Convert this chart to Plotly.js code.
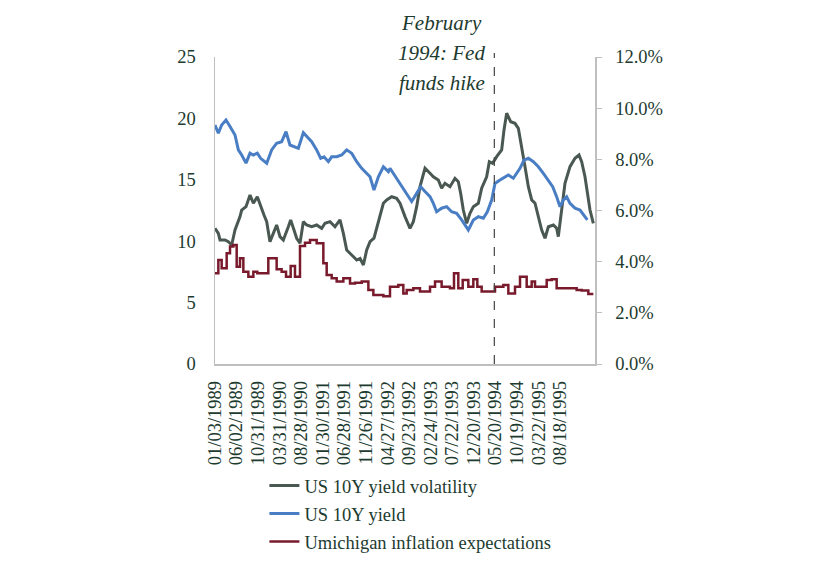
<!DOCTYPE html>
<html>
<head>
<meta charset="utf-8">
<script src="https://cdn.plot.ly/plotly-3.0.1.min.js"></script>
<style>html,body{margin:0;padding:0;background:#fff;}#chart{width:840px;height:566px;}</style>
</head>
<body>
<div id="chart"></div>
<script>
// ---- Data (x in decimal years) ----
const volX = [1989.005,1989.069,1989.101,1989.197,1989.261,1989.325,1989.389,1989.485,1989.517,1989.600,1989.677,1989.741,1989.817,1989.869,1989.945,1989.997,1990.060,1990.124,1990.188,1990.252,1990.316,1990.412,1990.457,1990.521,1990.572,1990.636,1990.700,1990.764,1990.860,1990.956,1991.052,1991.116,1991.212,1991.308,1991.404,1991.468,1991.532,1991.628,1991.724,1991.788,1991.852,1991.916,1991.980,1992.056,1992.140,1992.236,1992.300,1992.395,1992.491,1992.555,1992.651,1992.747,1992.811,1992.875,1992.939,1993.035,1993.131,1993.195,1993.290,1993.354,1993.418,1993.514,1993.610,1993.674,1993.719,1993.770,1993.834,1993.898,1993.962,1994.058,1994.122,1994.218,1994.269,1994.333,1994.410,1994.506,1994.551,1994.602,1994.679,1994.762,1994.826,1994.890,1994.954,1995.018,1995.082,1995.146,1995.210,1995.274,1995.338,1995.402,1995.498,1995.561,1995.593,1995.657,1995.721,1995.817,1995.913,1995.990,1996.041,1996.105,1996.150,1996.201,1996.265];
const volY = [11.05,10.64,10.10,10.10,9.96,9.69,10.91,12.00,12.54,12.81,13.76,13.09,13.62,12.95,12.13,11.59,9.96,10.64,11.32,10.37,10.10,11.18,11.73,10.91,10.24,9.83,11.59,11.32,11.18,11.32,11.05,11.46,11.59,11.18,11.73,10.64,9.28,8.88,8.47,8.60,8.06,9.28,9.96,10.24,11.59,13.09,13.36,13.62,13.49,13.09,12.00,11.05,11.59,12.81,14.44,15.94,15.53,15.25,14.98,14.31,14.72,14.44,15.12,14.85,13.90,12.54,11.46,12.27,12.81,13.09,14.31,15.25,16.47,16.34,16.88,17.43,19.06,20.42,19.73,19.60,19.19,17.43,16.07,14.44,13.36,13.09,12.00,10.91,10.24,11.18,11.32,11.05,10.37,12.54,14.72,16.07,16.75,17.02,16.47,15.25,13.90,12.54,11.46];

const yieldX = [1989.005,1989.069,1989.133,1989.216,1989.293,1989.389,1989.453,1989.517,1989.600,1989.677,1989.741,1989.817,1989.881,1989.997,1990.092,1990.188,1990.284,1990.368,1990.444,1990.540,1990.604,1990.700,1990.777,1990.860,1990.956,1991.033,1991.097,1991.180,1991.244,1991.340,1991.436,1991.532,1991.628,1991.724,1991.820,1991.916,1991.980,1992.056,1992.140,1992.236,1992.332,1992.363,1992.427,1992.491,1992.587,1992.683,1992.779,1992.875,1992.951,1993.035,1993.131,1993.195,1993.258,1993.354,1993.450,1993.546,1993.642,1993.738,1993.821,1993.866,1993.962,1994.058,1994.154,1994.231,1994.314,1994.378,1994.474,1994.570,1994.634,1994.730,1994.794,1994.858,1994.934,1995.018,1995.114,1995.210,1995.306,1995.402,1995.485,1995.561,1995.625,1995.689,1995.753,1995.817,1995.913,1996.009,1996.086,1996.150];
const yieldY = [9.34,9.02,9.34,9.54,9.28,8.95,8.37,8.17,7.85,8.24,8.17,8.24,8.04,7.85,8.37,8.63,8.69,9.08,8.56,8.50,8.43,9.04,8.89,8.69,8.37,8.04,8.10,7.91,8.10,8.10,8.17,8.37,8.24,7.91,7.65,7.45,7.32,6.80,7.32,7.71,7.52,7.65,7.45,7.26,6.93,6.67,6.35,6.67,6.93,6.74,6.54,6.28,5.95,6.09,6.15,5.95,5.89,5.63,5.37,5.24,5.63,5.76,5.70,5.95,6.41,7.06,7.19,7.32,7.39,7.26,7.45,7.65,7.97,8.04,7.91,7.71,7.45,7.19,6.93,6.54,6.15,6.41,6.54,6.28,6.09,6.02,5.82,5.63];

const inflX = [1989.005,1989.069,1989.133,1989.229,1989.293,1989.357,1989.421,1989.485,1989.549,1989.645,1989.741,1989.817,1990.028,1990.188,1990.284,1990.368,1990.457,1990.540,1990.636,1990.732,1990.828,1990.956,1991.084,1991.148,1991.244,1991.340,1991.468,1991.596,1991.692,1991.820,1991.948,1992.044,1992.236,1992.363,1992.523,1992.619,1992.683,1992.811,1992.939,1993.131,1993.227,1993.354,1993.514,1993.591,1993.674,1993.758,1993.866,1993.962,1994.039,1994.122,1994.378,1994.538,1994.634,1994.762,1994.858,1994.986,1995.082,1995.146,1995.370,1995.466,1995.561,1995.945,1996.041,1996.169,1996.265];
const inflY = [3.55,4.07,3.74,4.33,4.59,4.65,3.80,4.13,3.61,3.41,3.61,3.55,4.13,3.70,3.61,3.41,3.83,3.41,4.61,4.74,4.85,4.72,3.94,3.48,3.35,3.22,3.35,3.15,3.18,3.22,2.89,2.70,2.65,3.02,3.09,2.76,2.89,2.96,2.83,3.02,3.22,3.02,2.96,3.55,2.96,3.28,3.02,3.31,3.02,2.83,3.02,3.09,2.76,3.02,3.41,3.02,3.22,3.02,3.28,3.31,2.96,2.89,2.87,2.74,2.74];

const tickLabels = ["01/03/1989","06/02/1989","10/31/1989","03/31/1990","08/28/1990","01/30/1991","06/28/1991","11/26/1991","04/27/1992","09/23/1992","02/24/1993","07/22/1993","12/20/1993","05/20/1994","10/19/1994","03/22/1995","08/18/1995"];
const seriesNames = ["US 10Y yield volatility","US 10Y yield","Umichigan inflation expectations"];
const hikeX = 1994.365;
const hikeLines = ["February","1994: Fed","funds hike"];

// ---- helpers ----
function decYear(s){
  const [m,d,y] = s.split('/').map(Number);
  const doy = Math.round((Date.UTC(y,m-1,d) - Date.UTC(y,0,1))/86400000);
  return y + doy/365;
}
const tickVals = tickLabels.map(decYear);

const FONT = '"Liberation Serif", "Times New Roman", serif';
const TXT = '#1d3b2f';
const AX = '#bfbfbf';

const traces = [
  {x: volX, y: volY, name: seriesNames[0], type:'scatter', mode:'lines', yaxis:'y',
   line:{color:'#4a5852', width:3}, legendgroup:'a'},
  {x: yieldX, y: yieldY, name: seriesNames[1], type:'scatter', mode:'lines', yaxis:'y2',
   line:{color:'#4a7ec4', width:3}, legendgroup:'b'},
  {x: inflX, y: inflY, name: seriesNames[2], type:'scatter', mode:'lines', yaxis:'y2',
   line:{color:'#781a2b', width:2.5, shape:'hv'}, legendgroup:'c'}
];

const annY = [1.111, 1.012, 0.914];
const annotations = hikeLines.map((t, i) => ({
  xref:'paper', yref:'paper', x:0.597, y:annY[i], xanchor:'center', yanchor:'middle',
  text:'<i>'+t+'</i>', showarrow:false, font:{family:FONT, size:21, color:TXT}
}));

const layout = {
  width:840, height:566,
  margin:{l:215, r:245, t:57, b:202, autoexpand:false},
  paper_bgcolor:'#ffffff', plot_bgcolor:'#ffffff',
  font:{family:FONT, size:18.5, color:TXT},
  showlegend:true,
  legend:{x:0.13, xanchor:'left', y:-0.3355, yanchor:'top',
          orientation:'v', font:{family:FONT, size:18.5, color:TXT}, bgcolor:'rgba(0,0,0,0)',
          traceorder:'grouped', tracegroupgap:1},
  xaxis:{type:'linear', range:[1989.005, 1996.297], tickvals:tickVals, ticktext:tickLabels,
         tickangle:-90, showgrid:false, zeroline:false, showline:true, linecolor:AX, linewidth:1.5,
         ticks:'', ticklabelstandoff:8, automargin:false, tickfont:{family:FONT, size:18.5, color:TXT}},
  yaxis:{range:[0,25], dtick:5, tick0:0, showgrid:false, zeroline:false, showline:true,
         linecolor:AX, linewidth:1.5, ticks:'', ticklabelstandoff:14, automargin:false,
         tickfont:{family:FONT, size:18.5, color:TXT}},
  yaxis2:{range:[0,12], dtick:2, tick0:0, overlaying:'y', side:'right', showgrid:false,
          zeroline:false, showline:true, linecolor:AX, linewidth:1.5, ticks:'outside',
          ticklen:5, tickcolor:AX, tickformat:'.1f', ticksuffix:'%', ticklabelstandoff:10,
          automargin:false, tickfont:{family:FONT, size:18.5, color:TXT}},
  shapes:[{type:'line', xref:'x', yref:'paper', x0:hikeX, x1:hikeX, y0:0, y1:1.013,
           line:{color:'#444444', width:1.2, dash:'dash'}}],
  annotations: annotations
};

Plotly.newPlot('chart', traces, layout, {displayModeBar:false, staticPlot:true});
</script>
</body>
</html>
